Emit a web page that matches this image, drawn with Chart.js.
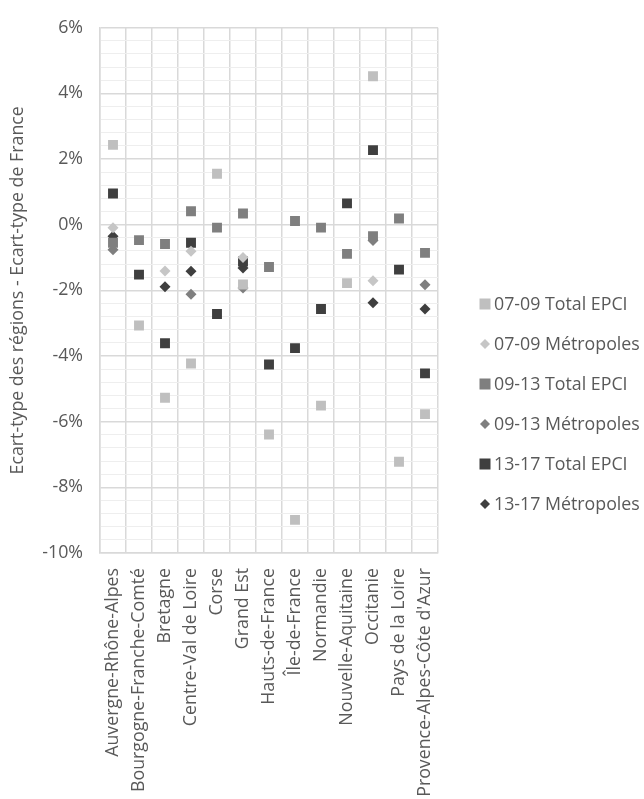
<!DOCTYPE html>
<html>
<head>
<meta charset="utf-8">
<script src="https://cdn.jsdelivr.net/npm/chart.js@4/dist/chart.umd.min.js"></script>
<style>
  html, body { margin: 0; padding: 0; background: #fff; }
  #wrap { width: 644px; height: 799px; }
</style>
</head>
<body>
<div id="wrap"><canvas id="chart"></canvas></div>
<script>
// Regions (x axis)
const regions = [
  'Auvergne-Rhône-Alpes', 'Bourgogne-Franche-Comté', 'Bretagne', 'Centre-Val de Loire',
  'Corse', 'Grand Est', 'Hauts-de-France', 'Île-de-France', 'Normandie',
  'Nouvelle-Aquitaine', 'Occitanie', 'Pays de la Loire', 'Provence-Alpes-Côte d\'Azur'
];

// Values in % (null = no point)
const epci0709  = [2.43, -3.07, -5.27, -4.23, 1.55, -1.82, -6.39, -8.99, -5.51, -1.78, 4.52, -7.22, -5.77];
const metro0709 = [-0.09, null, -1.41, -0.81, null, -1.0, null, null, null, null, -1.71, null, null];
const epci0913  = [-0.55, -0.47, -0.59, 0.41, -0.09, 0.34, -1.29, 0.11, -0.09, -0.89, -0.35, 0.19, -0.86];
const metro0913 = [-0.76, null, null, -2.12, null, -1.93, null, null, null, null, -0.48, null, -1.83];
const epci1317  = [0.95, -1.52, -3.61, -0.55, -2.72, -1.12, -4.26, -3.76, -2.57, 0.65, 2.27, -1.37, -4.53];
const metro1317 = [-0.35, null, -1.89, -1.42, null, -1.32, null, null, null, null, -2.38, null, -2.57];

const seriesNames = ['07-09 Total EPCI', '07-09 Métropoles', '09-13 Total EPCI',
                     '09-13 Métropoles', '13-17 Total EPCI', '13-17 Métropoles'];

// y axis
const yMin = -10, yMax = 6, yMinorStep = 0.4, yMajorStep = 2;

const FONT = '"Open Sans", "Noto Sans", sans-serif';
const FSIZE = 17.8;
const TEXT = '#595959';

function ds(label, data, color, style, radius) {
  return {
    label, data,
    showLine: false,
    backgroundColor: color,
    borderColor: color,
    pointStyle: style,
    pointRadius: radius,
    pointHoverRadius: radius,
    pointBorderWidth: 0
  };
}

const datasets = [
  ds(seriesNames[0], epci0709,  '#bfbfbf', 'rect', 7),
  ds(seriesNames[1], metro0709, '#c6c6c6', 'rectRot', 5.5),
  ds(seriesNames[2], epci0913,  '#7f7f7f', 'rect', 7),
  ds(seriesNames[3], metro0913, '#7f7f7f', 'rectRot', 5.5),
  ds(seriesNames[4], epci1317,  '#3f3f3f', 'rect', 7),
  ds(seriesNames[5], metro1317, '#3f3f3f', 'rectRot', 5.5)
];

const isMajor = v => Math.abs(v / yMajorStep - Math.round(v / yMajorStep)) < 1e-6;

// legend drawn at the right, Excel-like
const sideLegend = {
  id: 'sideLegend',
  afterDraw(chart) {
    const ctx = chart.ctx;
    ctx.save();
    ctx.font = FSIZE + 'px ' + FONT;
    ctx.textBaseline = 'middle';
    ctx.textAlign = 'left';
    chart.data.datasets.forEach((d, i) => {
      const y = 304 + i * 40;
      const x = 485;
      ctx.fillStyle = d.backgroundColor;
      if (d.pointStyle === 'rect') {
        ctx.fillRect(x - 5.5, y - 5.5, 11, 11);
      } else {
        ctx.beginPath();
        ctx.moveTo(x - 5, y);
        ctx.lineTo(x, y - 5);
        ctx.lineTo(x + 5, y);
        ctx.lineTo(x, y + 5);
        ctx.closePath();
        ctx.fill();
      }
      ctx.fillStyle = TEXT;
      ctx.fillText(d.label, 494, y + 1);
    });
    ctx.restore();
  }
};

new Chart(document.getElementById('chart'), {
  type: 'line',
  data: { labels: regions, datasets },
  plugins: [sideLegend],
  options: {
    responsive: true,
    maintainAspectRatio: false,
    animation: false,
    layout: { padding: { top: 22, right: 206, bottom: 0, left: 0 } },
    plugins: { legend: { display: false }, tooltip: { enabled: false } },
    scales: {
      x: {
        type: 'category',
        offset: true,
        grid: { offset: true, color: '#d9d9d9', lineWidth: 1.5, drawTicks: false },
        border: { display: true, color: '#d9d9d9', width: 1.5 },
        ticks: {
          autoSkip: false, minRotation: 90, maxRotation: 90, padding: 15,
          color: TEXT, font: { family: FONT, size: FSIZE }
        },
        afterFit(scale) { scale.height = 246; }
      },
      y: {
        min: yMin, max: yMax,
        afterBuildTicks(scale) {
          const t = [];
          for (let i = 0; i <= Math.round((yMax - yMin) / yMinorStep); i++) {
            t.push({ value: Math.round((yMin + i * yMinorStep) * 10) / 10 });
          }
          scale.ticks = t;
        },
        grid: {
          drawTicks: false,
          color: c => isMajor(c.tick.value) ? '#d9d9d9' : '#eeeeee',
          lineWidth: c => isMajor(c.tick.value) ? 1.5 : 1
        },
        border: { display: true, color: '#d9d9d9', width: 1.5 },
        ticks: {
          autoSkip: false, padding: 17, color: TEXT,
          font: { family: FONT, size: FSIZE },
          callback: v => isMajor(v) ? Math.round(v) + '%' : ''
        },
        title: {
          display: true,
          text: 'Ecart-type des régions - Ecart-type de France',
          color: TEXT, font: { family: FONT, size: FSIZE },
          padding: { top: 7, bottom: 0 }
        },
        afterFit(scale) { scale.width = 100; }
      }
    }
  }
});
</script>
</body>
</html>
